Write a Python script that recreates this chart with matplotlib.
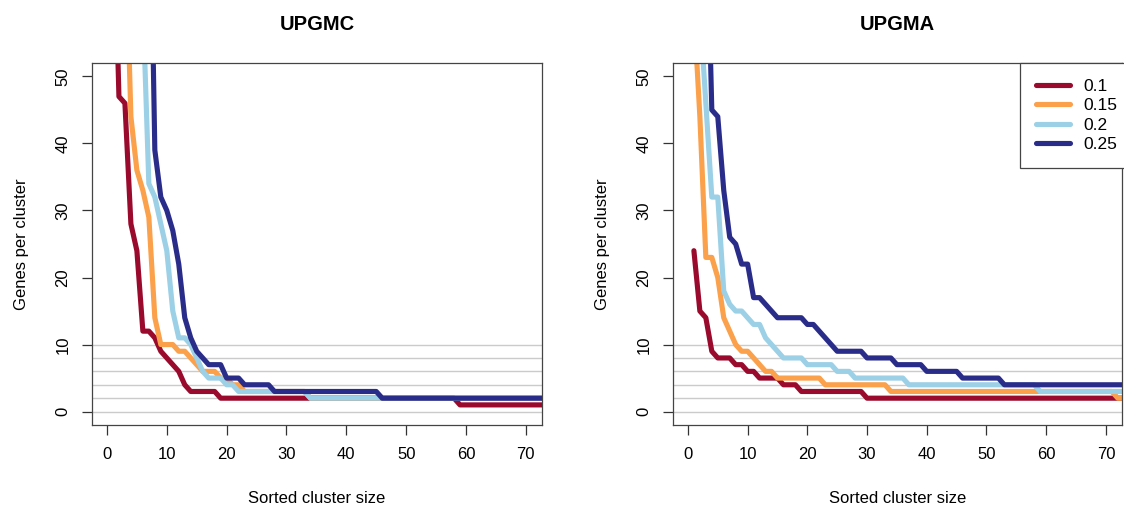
import numpy as np
import matplotlib.pyplot as plt

plt.rcParams['font.family'] = ['Liberation Sans', 'DejaVu Sans']

# cut thresholds and colours
thresholds = ['0.1', '0.15', '0.2', '0.25']
colors = ['#990A2C', '#FBA04B', '#9BD0E6', '#2A2C8A']

# genes per cluster, sorted clusters 1..74
upgmc_01 = [80, 47, 46, 28, 24, 12, 12, 11, 9, 8, 7, 6, 4, 3, 3, 3, 3, 3,
            2, 2, 2, 2, 2, 2, 2, 2, 2, 2, 2, 2, 2, 2, 2, 2, 2, 2, 2, 2, 2, 2,
            2, 2, 2, 2, 2, 2, 2, 2, 2, 2, 2, 2, 2, 2, 2, 2, 2, 2,
            1, 1, 1, 1, 1, 1, 1, 1, 1, 1, 1, 1, 1, 1, 1, 1]
upgmc_015 = [200, 120, 75, 44, 36, 33, 29, 14, 10, 10, 10, 9, 9, 8, 7, 6, 6, 6, 5, 5, 4, 4,
             3, 3, 3, 3, 3, 3, 3, 3, 3, 3, 3,
             2, 2, 2, 2, 2, 2, 2, 2, 2, 2, 2, 2, 2, 2, 2, 2, 2, 2, 2, 2, 2,
             2, 2, 2, 2, 2, 2, 2, 2, 2, 2, 2, 2, 2, 2, 2, 2, 2, 2, 2, 2]
upgmc_02 = [250, 180, 120, 90, 70, 61, 34, 32, 28, 24, 15, 11, 11, 10, 8, 6, 5, 5, 5, 4, 4,
            3, 3, 3, 3, 3, 3, 3, 3, 3, 3, 3, 3,
            2, 2, 2, 2, 2, 2, 2, 2, 2, 2, 2, 2, 2, 2, 2, 2, 2, 2, 2, 2, 2,
            2, 2, 2, 2, 2, 2, 2, 2, 2, 2, 2, 2, 2, 2, 2, 2, 2, 2, 2, 2]
upgmc_025 = [400, 300, 200, 150, 120, 100, 90, 39, 32, 30, 27, 22, 14, 11, 9, 8, 7, 7, 7,
             5, 5, 5, 4, 4, 4, 4, 4,
             3, 3, 3, 3, 3, 3, 3, 3, 3, 3, 3, 3, 3, 3, 3, 3, 3, 3,
             2, 2, 2, 2, 2, 2, 2, 2, 2, 2, 2, 2, 2, 2, 2, 2, 2, 2, 2, 2,
             2, 2, 2, 2, 2, 2, 2, 2, 2]

upgma_01 = [24, 15, 14, 9, 8, 8, 8, 7, 7, 6, 6, 5, 5, 5, 5, 4, 4, 4,
            3, 3, 3, 3, 3, 3, 3, 3, 3, 3, 3,
            2, 2, 2, 2, 2, 2, 2, 2, 2, 2, 2, 2, 2, 2, 2, 2, 2, 2, 2, 2, 2,
            2, 2, 2, 2, 2, 2, 2, 2, 2, 2, 2, 2, 2, 2, 2, 2, 2, 2, 2, 2,
            2, 2, 2, 2, 2]
upgma_015 = [60, 44, 23, 23, 20, 14, 12, 10, 9, 9, 8, 7, 6, 6, 5, 5, 5, 5, 5, 5, 5, 5,
             4, 4, 4, 4, 4, 4, 4, 4, 4, 4, 4,
             3, 3, 3, 3, 3, 3, 3, 3, 3, 3, 3, 3, 3, 3, 3, 3, 3, 3, 3, 3,
             3, 3, 3, 3, 3, 3, 3, 3, 3, 3, 3, 3, 3, 3, 3, 3, 3, 3,
             2, 2, 2]
upgma_02 = [120, 60, 46, 32, 32, 18, 16, 15, 15, 14, 13, 13, 11, 10, 9, 8, 8, 8, 8,
            7, 7, 7, 7, 7, 6, 6, 6,
            5, 5, 5, 5, 5, 5, 5, 5, 5,
            4, 4, 4, 4, 4, 4, 4, 4, 4, 4, 4, 4, 4, 4, 4, 4, 4, 4, 4, 4, 4, 4,
            3, 3, 3, 3, 3, 3, 3, 3, 3, 3, 3, 3, 3, 3, 3, 3]
upgma_025 = [200, 120, 80, 45, 44, 33, 26, 25, 22, 22, 17, 17, 16, 15, 14, 14, 14, 14, 14,
             13, 13, 12, 11, 10,
             9, 9, 9, 9, 9, 8, 8, 8, 8, 8, 7, 7, 7, 7, 7, 6, 6, 6, 6, 6, 6,
             5, 5, 5, 5, 5, 5, 5,
             4, 4, 4, 4, 4, 4, 4, 4, 4, 4, 4, 4, 4, 4, 4, 4, 4, 4, 4, 4, 4, 4]

guide_levels = [0, 2, 4, 6, 8, 10]
x_ticks = [0, 10, 20, 30, 40, 50, 60, 70]
y_ticks = [0, 10, 20, 30, 40, 50]

panels = [
    ('UPGMC', [upgmc_01, upgmc_015, upgmc_02, upgmc_025]),
    ('UPGMA', [upgma_01, upgma_015, upgma_02, upgma_025]),
]

W, H = 1124, 508
fig = plt.figure(figsize=(W / 100, H / 100), dpi=100)
boxes = [[92 / W, 83 / H, 450 / W, 362 / H],
         [673 / W, 83 / H, 449 / W, 362 / H]]

for (title, series), box in zip(panels, boxes):
    ax = fig.add_axes(box)
    for lev in guide_levels:
        ax.axhline(lev, color='#CBCBCB', linewidth=1.0, zorder=1)
    for vals, col, lab in zip(series, colors, thresholds):
        x = np.arange(1, len(vals) + 1)
        ax.plot(x, vals, color=col, linewidth=3.7, label=lab, zorder=2,
                solid_capstyle='round', solid_joinstyle='round')

    ax.set_xlim(-2.5, 72.7)
    ax.set_ylim(-2, 52)
    ax.set_xticks(x_ticks)
    ax.set_yticks(y_ticks)
    ax.tick_params(axis='both', direction='out', length=7.5, width=0.9,
                   color='#333333', labelsize=12, pad=8)
    for lbl in ax.get_yticklabels():
        lbl.set_rotation(90)
        lbl.set_va('center')
    for sp in ax.spines.values():
        sp.set_color('#444444')
        sp.set_linewidth(0.9)

    ax.set_xlabel('Sorted cluster size', fontsize=12, labelpad=21)
    ax.set_ylabel('Genes per cluster', fontsize=12, labelpad=19)
    ax.set_title(title, fontsize=14.5, fontweight='bold', pad=24)

    if title == 'UPGMA':
        # legend box runs past the right edge, as in the original
        leg = ax.legend(loc='upper left', bbox_to_anchor=(347 / 449, 1.0),
                        borderaxespad=0, fancybox=False, framealpha=1,
                        edgecolor='#444444', fontsize=12.5, handlelength=2.0,
                        handletextpad=0.75, labelspacing=0.25, borderpad=0.9)
        leg.get_frame().set_linewidth(0.9)

fig.savefig('out.png', dpi=100)
